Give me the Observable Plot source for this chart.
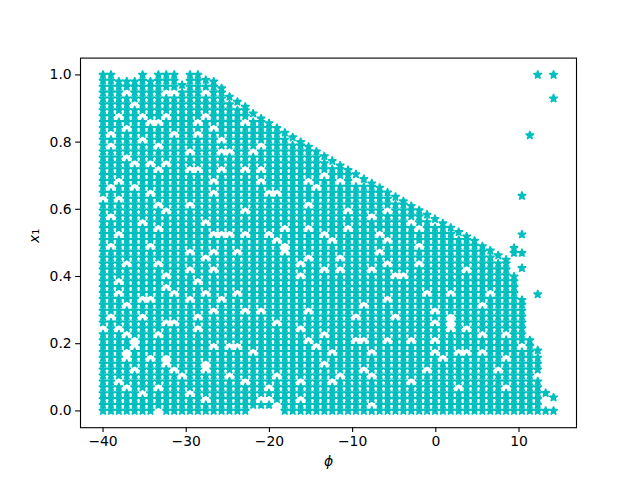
<!DOCTYPE html>
<html><head><meta charset="utf-8">
<script src="https://cdn.jsdelivr.net/npm/d3@7"></script>
<script src="https://cdn.jsdelivr.net/npm/@observablehq/plot@0.6"></script>
<style>html,body{margin:0;padding:0;background:#fff}svg{display:block}</style>
</head><body><div id="chart"></div>
<script>
const columnPhi = [-40,-39.05,-38.1,-37.15,-36.2,-35.25,-34.3,-33.35,-32.4,-31.45,-30.5,-29.55,-28.6,-27.65,-26.7,-25.75,-24.8,-23.85,-22.9,-21.95,-21,-20.05,-19.1,-18.15,-17.2,-16.25,-15.3,-14.35,-13.4,-12.45,-11.5,-10.55,-9.6,-8.65,-7.7,-6.75,-5.8,-4.85,-3.9,-2.95,-2,-1.05,-0.1,0.85,1.8,2.75,3.7,4.65,5.6,6.55,7.5,8.45,9.4,10.35,11.3,12.25];
const columnTop = [1,1,0.98,0.98,0.98,1,0.98,1,1,1,0.97,1,1,0.985,0.98,0.96,0.935,0.92,0.905,0.885,0.87,0.856,0.842,0.828,0.814,0.8,0.786,0.772,0.758,0.744,0.73,0.717,0.704,0.69,0.677,0.664,0.65,0.637,0.624,0.61,0.597,0.584,0.571,0.558,0.545,0.532,0.519,0.506,0.49,0.477,0.463,0.45,0.4,0.33,0.21,0.18];
const rowX1 = [0,.0175,.0351,.0526,.0702,.0877,.1053,.1228,.1404,.1579,.1754,.193,.2105,.2281,.2456,.2632,.2807,.2982,.3158,.3333,.3509,.3684,.386,.4035,.4211,.4386,.4561,.4737,.4912,.5088,.5263,.5439,.5614,.5789,.5965,.614,.6316,.6491,.6667,.6842,.7018,.7193,.7368,.7544,.7719,.7895,.807,.8246,.8421,.8596,.8772,.8947,.9123,.9298,.9474,.9649,.9825,1];
const strayPhi = [9.4,9.4,10.35,10.35,10.35,10.35,11.3,12.25,12.25,13.2,13.2,14.15,14.15,14.15,14.15];
const strayX1 = [0.485,0.47,0.64,0.525,0.47,0.425,0.82,1,0.347,0.053,0,1,0.93,0.04,0];
const missing = [
[-31.3,.949],[-32.1,.939],[-36.9,.944],[-27.7,.944],[-35.9,.914],[-38.1,.874],[-37.1,.85],[-35.3,.869],[-34.5,.854],[-32.5,.869],[-33.7,.854],[-31.3,.83],[-27.7,.879],[-26.7,.85],[-28.5,.854],[-23.1,.866],[-39.1,.83],[-39.1,.795],[-35.3,.805],[-33.3,.785],[-28.7,.817],[-25.9,.815],[-25.7,.78],[-24.7,.765],[-29.7,.775],[-37.5,.76],[-36.1,.731],[-34.3,.74],[-33.3,.721],[-32.1,.736],[-28.9,.716],[-29.7,.716],[-28.3,.716],[-25.9,.726],[-22.9,.721],[-38.1,.681],[-38.9,.666],[-36.3,.674],[-34.3,.641],[-26.5,.686],[-26.5,.656],[-37.9,.636],[-39.9,.631],[-32.5,.602],[-33.7,.607],[-29.3,.612],[-22.9,.597],[-39.1,.585],[-35.1,.562],[-27.5,.567],[-38.1,.532],[-33.7,.537],[-25.7,.53],[-26.7,.528],[-24.5,.53],[-23.1,.528],
[-39.1,.492],[-34.1,.495],[-29.7,.479],[-26.5,.477],[-23.9,.467],[-33.3,.445],[-37.1,.43],[-27.7,.457],[-26.7,.423],[-29.9,.416],[-29.1,.416],[-32.3,.408],[-32.3,.373],[-38.3,.383],[-28.7,.378],[-27.7,.351],[-23.7,.348],[-38.1,.343],[-31.3,.348],[-34.3,.338],[-35.3,.326],[-37.3,.317],[-29.5,.326],[-25.7,.328],[-39,.289],[-28.5,.289],[-26.5,.304],[-22.9,.304],[-35.3,.284],[-39.9,.247],[-38.1,.254],[-32.3,.259],[-31.3,.264],[-37.3,.234],[-33.3,.231],[-28.5,.241],[-24.7,.195],[-23.7,.2],[-36.1,.21],[-36.1,.19],[-37.1,.17],[-37.1,.15],[-32.3,.165],[-34.3,.155],[-26.7,.19],[-27.7,.145],[-31.3,.13],[-32.1,.132],[-36.1,.122],[-30.5,.1],[-24.7,.1],[-27.5,.115],[-38.1,.082],[-33.3,.068],[-37.3,.063],[-35.3,.059],[-29.5,.061],[-22.9,.085],[-27.7,.036],[-33.3,.001],
[-21.9,.772],[-20.9,.723],[-20.9,.691],[-21.1,.795],[-13.3,.706],[-15.3,.691],[-14.3,.674],[-11.5,.691],[-9.7,.684],[-18.7,.646],[-19.7,.641],[-15.3,.613],[-10.5,.601],[-5.9,.598],[-2.7,.567],[-7.7,.586],[-15.3,.547],[-10.5,.545],[-13.5,.532],[-19.9,.532],[-19.1,.517],[-18.3,.499],[-18.1,.547],[-12.5,.502],[-6.5,.527],[-5.9,.502],[-6.7,.477],[-2.3,.547],[-18.1,.466],[-11.5,.457],[-15.5,.457],[-2.3,.497],[-7.5,.428],[-5.9,.433],[-16.3,.438],[-13.3,.428],[-2.3,.438],
[-16.3,.406],[-4.9,.398],[-3.9,.403],[-11.5,.415],[-5.9,.331],[-8.5,.309],[-21.1,.297],[-15.3,.294],[-4.9,.289],[-9.5,.284],[-19.1,.259],[-16.3,.247],[-13.5,.227],[-8.7,.215],[-9.5,.212],[-15.3,.21],[-3.1,.212],[-5.9,.208],[-14.3,.185],[-12.3,.18],[-7.7,.18],[-21.9,.175],[-8.7,.13],[-19.1,.108],[-11.5,.11],[-7.6,.105],[-16.3,.091],[-2.9,.096],[-12.3,.091],[-20.1,.071],[-20.7,.029],[-19.9,.036],[-16.3,.029],[-19.1,.02],[-19.1,0],[-21.9,0],[-21,0],[-20,0],[-13.3,.135],[-7.9,.026],
[-1,.348],[1.96,.348],[6.6,.356],[-1.6,.437],[-.04,.294],[-.04,.259],[1.96,.264],[1.96,.244],[3.56,.254],[5.56,.234],[8.56,.234],[-.04,.217],[-.04,.184],[2.96,.179],[3.96,.179],[1,.161],[5.56,.179],[10.36,.191],[-1,.125],[7.56,.13],[8.56,.15],[2.9,.078],[8.56,.075],[3.96,.427],[5.56,.323],[1.96,.279],[12.25,.1]
];
const xTicks = [-40,-30,-20,-10,0,10];
const yTicks = [0,0.2,0.4,0.6,0.8,1];

const nearest = (arr, v) => d3.leastIndex(arr, (a, b) => Math.abs(a - v) - Math.abs(b - v));
const holes = new Set(missing.map(([p, x]) => nearest(columnPhi, p) + ":" + nearest(rowX1, x)));
const points = [];
columnPhi.forEach((phi, i) => {
  rowX1.forEach((x1, j) => {
    if (x1 <= columnTop[i] - 0.01 && !holes.has(i + ":" + j)) points.push({phi, x1});
  });
  points.push({phi, x1: columnTop[i]});
});
strayPhi.forEach((phi, i) => points.push({phi, x1: strayX1[i]}));

const color = "#00bfbf";
const fontSize = "13.9px";
const chart = Plot.plot({
  width: 640, height: 480,
  marginLeft: 80, marginRight: 64, marginTop: 57.6, marginBottom: 52.8,
  style: {background: "#fff", fontFamily: "'DejaVu Sans'", fontSize, color: "#000"},
  x: {domain: [-42.71, 16.91]},
  y: {domain: [-0.05, 1.05]},
  marks: [
    Plot.dot(points, {x: "phi", y: "x1", symbol: "star", r: 2.6, fill: color, stroke: color, strokeWidth: 1.39, strokeLinejoin: "bevel"}),
    Plot.frame({stroke: "#000", strokeWidth: 1.1, strokeOpacity: 1}),
    Plot.axisX({ticks: xTicks, tickSize: 4.86, tickPadding: 4, strokeWidth: 1.1, label: null, fontSize, tickFormat: d => d3.format("d")(d)}),
    Plot.axisY({ticks: yTicks, tickSize: 4.86, tickPadding: 4, strokeWidth: 1.1, label: null, fontSize, tickFormat: d3.format(".1f")}),
    Plot.text(["ϕ"], {frameAnchor: "bottom", dy: 38, fontSize, fontStyle: "italic", fill: "#000"}),
    Plot.text(["x"], {frameAnchor: "left", dx: -46, rotate: -90, fontSize, fontStyle: "italic", fill: "#000", className: "ylab"})
  ]
});
document.getElementById("chart").appendChild(chart);
d3.select(chart).selectAll(".ylab text").each(function () {
  d3.select(this).append("tspan").style("font-style", "normal").style("font-size", "15px").text("₁");
});
</script></body></html>
